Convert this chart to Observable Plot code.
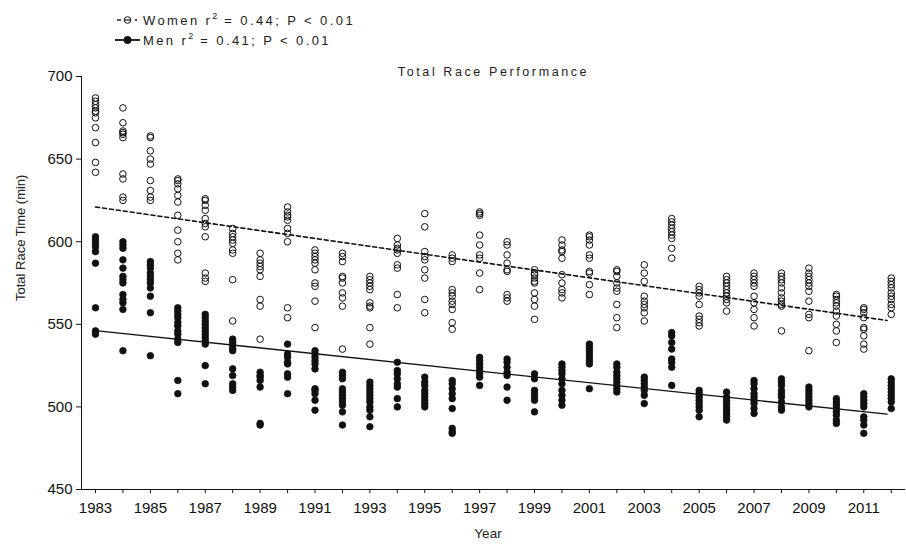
<!DOCTYPE html>
<html>
<head>
<meta charset="utf-8">
<script src="https://cdn.jsdelivr.net/npm/d3@7"></script>
<script src="https://cdn.jsdelivr.net/npm/@observablehq/plot@0.6"></script>
<style>
  body { margin: 0; background: #fff; font-family: "Liberation Sans", Arial, sans-serif; }
  #legend { position: relative; width: 906px; height: 56px; }
  .row { position: absolute; left: 115px; height: 16px; display: flex; align-items: center;
         font-size: 13px; letter-spacing: 2.4px; color: #222; white-space: nowrap; }
  .row svg { margin-right: 3px; overflow: visible; }
  .row sup { font-size: 9px; line-height: 0; vertical-align: 0; position: relative; top: -6px; letter-spacing: 0; margin-right: 1px; }
</style>
</head>
<body>
<div id="legend"></div>
<div id="chart"></div>
<script>
const years = [1983,1984,1985,1986,1987,1988,1989,1990,1991,1992,1993,1994,1995,1996,1997,1998,1999,2000,2001,2002,2003,2004,2005,2006,2007,2008,2009,2010,2011,2012];

const womenTimes = [
  [687,685,683,681,679,678,675,669,660,648,642],
  [681,672,667,666,665,663,641,638,627,625],
  [664,663,655,650,647,637,631,627,625],
  [638,637,635,632,628,624,616,607,600,593,589],
  [626,625,622,619,614,611,609,603,581,578,576],
  [608,605,603,601,599,595,593,577,552],
  [593,589,587,585,583,579,565,561,541],
  [621,618,616,615,613,608,605,600,560,554],
  [595,593,591,589,587,583,575,573,564,548],
  [593,591,588,579,578,575,569,566,561,535],
  [579,577,575,573,571,563,561,560,548,538],
  [602,598,596,595,593,586,584,568,560],
  [617,609,594,591,589,583,578,565,557],
  [592,590,588,571,569,567,564,562,559,551,547],
  [618,617,616,604,598,592,590,581,571],
  [600,598,592,587,583,582,568,566,564],
  [583,581,580,578,576,575,569,565,561,553],
  [601,598,595,594,590,580,575,571,569,566],
  [604,603,601,598,592,590,582,581,574,568],
  [583,582,579,575,572,570,562,554,548],
  [586,581,576,567,564,562,560,557,552],
  [614,612,610,608,606,604,602,596,590],
  [573,571,569,567,562,555,553,551,549],
  [579,577,575,573,571,569,567,565,563,558],
  [581,579,577,575,573,567,563,559,554,549],
  [581,579,577,575,572,569,566,564,562,561,546],
  [584,581,579,577,575,573,570,564,556,554,534],
  [568,567,565,563,561,558,555,550,546,539],
  [560,559,557,554,548,547,543,538,535],
  [578,576,574,572,569,567,565,562,560,556]
];

const menTimes = [
  [603,601,599,597,594,587,560,546,544],
  [600,598,596,589,584,579,577,575,568,565,563,559,534],
  [588,586,584,581,579,577,575,572,567,557,531],
  [560,558,556,554,551,549,546,544,541,539,516,508],
  [556,554,552,550,548,546,544,542,540,538,525,514],
  [541,539,537,535,534,523,519,514,512,510],
  [521,519,518,516,512,490,489],
  [538,532,530,527,526,520,518,508],
  [534,532,530,528,526,523,511,510,508,504,498],
  [521,519,517,511,509,507,505,503,501,497,489],
  [515,513,511,509,507,505,503,500,498,494,488],
  [527,522,520,517,514,512,505,500],
  [518,515,513,510,508,506,504,502,500],
  [516,514,511,508,505,499,487,485,484],
  [530,528,526,524,522,520,518,513],
  [529,527,524,521,519,512,504],
  [520,517,510,508,506,504,497],
  [526,524,522,520,517,514,510,507,504,501],
  [538,536,534,532,530,528,526,511],
  [526,524,521,519,517,515,513,511,509],
  [518,516,514,512,510,507,502],
  [545,543,539,535,529,527,524,513],
  [510,508,506,504,502,500,498,494],
  [509,506,504,502,500,498,496,494,492],
  [516,514,511,508,506,504,502,499,496],
  [517,515,513,510,508,506,503,500,498],
  [512,510,508,506,504,502,500],
  [505,503,501,499,497,495,492,490],
  [508,506,504,502,500,494,492,489,484],
  [517,515,513,511,509,507,505,503,499]
];

// regression lines as drawn in the figure
const fitYears = [1983, 2011.85];
const womenFit = [621, 552.3];
const menFit = [546.2, 495.6];

const yTicks = [450, 500, 550, 600, 650, 700];
const seriesNames = ["Women", "Men"];
const r2Values = ["0.44", "0.41"];
const pText = "P < 0.01";
const titleText = "Total Race Performance";
const xLabel = "Year";
const yLabel = "Total Race Time (min)";

// ---------- legend ----------
const legend = d3.select("#legend");
seriesNames.forEach((name, i) => {
  const row = legend.append("div").attr("class", "row").style("top", (12 + i * 20) + "px");
  const s = row.append("svg").attr("width", 25).attr("height", 10);
  if (i === 0) {
    s.append("line").attr("x1", 2).attr("x2", 6).attr("y1", 5).attr("y2", 5)
      .attr("stroke", "#111").attr("stroke-width", 1.4);
    s.append("line").attr("x1", 9).attr("x2", 16).attr("y1", 5).attr("y2", 5)
      .attr("stroke", "#111").attr("stroke-width", 1.2);
    s.append("line").attr("x1", 20).attr("x2", 22).attr("y1", 5).attr("y2", 5)
      .attr("stroke", "#111").attr("stroke-width", 1.4);
  } else {
    s.append("line").attr("x1", 0).attr("x2", 25).attr("y1", 5).attr("y2", 5)
      .attr("stroke", "#111").attr("stroke-width", 1.8);
  }
  s.append("circle").attr("cx", 12.5).attr("cy", 5).attr("r", i === 0 ? 3.3 : 3.6)
    .attr("fill", i === 0 ? "none" : "#111").attr("stroke", "#111").attr("stroke-width", 1);
  const t = row.append("span");
  t.append("span").text(name + " r");
  t.append("sup").text("2");
  t.append("span").text(" = " + r2Values[i] + "; " + pText);
});

// ---------- chart ----------
const womenPts = years.flatMap((yr, i) => womenTimes[i].map(v => ({year: yr, time: v})));
const menPts = years.flatMap((yr, i) => menTimes[i].map(v => ({year: yr, time: v})));
const womenLine = fitYears.map((yr, i) => ({year: yr, time: womenFit[i]}));
const menLine = fitYears.map((yr, i) => ({year: yr, time: menFit[i]}));

const xDomain = [1982.49, 2012.52];

const plot = Plot.plot({
  width: 906,
  height: 488,
  marginLeft: 81,
  marginRight: 1,
  marginTop: 20,
  marginBottom: 55,
  style: {fontFamily: "Liberation Sans, Arial, sans-serif", fontSize: "15px", background: "white", color: "#111"},
  x: {domain: xDomain},
  y: {domain: [450, 700]},
  marks: [
    Plot.axisX({ticks: years, tickFormat: d => (d % 2 ? String(d) : ""), tickSize: 4, tickPadding: 9, fontSize: 15, label: null}),
    Plot.axisY({ticks: yTicks, tickFormat: d => String(d), tickSize: 5, tickPadding: 4, fontSize: 15, label: null}),
    Plot.ruleY([450], {stroke: "#111", strokeWidth: 1}),
    Plot.ruleX([xDomain[0]], {stroke: "#111", strokeWidth: 1}),
    Plot.dot(womenPts, {x: "year", y: "time", r: 3.3, fill: "none", stroke: "#111", strokeWidth: 1}),
    Plot.dot(menPts, {x: "year", y: "time", r: 3.3, fill: "#111", stroke: "#111", strokeWidth: 0.8}),
    Plot.line(womenLine, {x: "year", y: "time", stroke: "#111", strokeWidth: 1.6, strokeDasharray: "4,3"}),
    Plot.line(menLine, {x: "year", y: "time", stroke: "#111", strokeWidth: 1.4}),
    Plot.text([titleText], {frameAnchor: "top", dy: -9, fontSize: 12.5, fill: "#222", text: d => d}),
    Plot.text([yLabel], {frameAnchor: "left", dx: -61, dy: 18, rotate: -90, fontSize: 13, fill: "#222", text: d => d}),
    Plot.text([xLabel], {frameAnchor: "bottom", dy: 48, dx: -5.5, fontSize: 13.5, fill: "#222", text: d => d})
  ]
});

d3.select(plot).selectAll("text").filter(function() { return this.textContent === titleText; })
  .style("letter-spacing", "2.6px");

document.getElementById("chart").appendChild(plot);
</script>
</body>
</html>
